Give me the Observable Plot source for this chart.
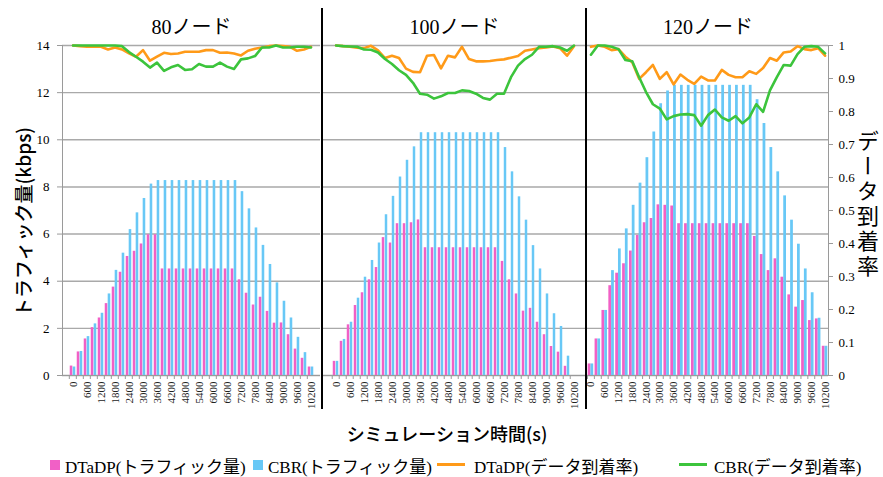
<!DOCTYPE html>
<html><head><meta charset="utf-8">
<script src="https://cdn.jsdelivr.net/npm/d3@7"></script>
<script src="https://cdn.jsdelivr.net/npm/@observablehq/plot@0.6"></script>
<style>
body{margin:0;background:#fff;}
#chart{position:relative;width:883px;height:477px;overflow:hidden;font-family:"Liberation Serif","Noto Sans CJK JP",serif;color:#000;}
.panel{position:absolute;top:0;}
.sep{position:absolute;width:2px;background:#000;top:8px;height:401px;}
.ylab{position:absolute;left:22px;top:222px;transform:translate(-50%,-50%) rotate(-90deg);font-family:"Noto Sans CJK JP",sans-serif;font-size:19px;font-weight:500;white-space:nowrap;}
.rlab{position:absolute;left:855px;top:130px;width:26px;writing-mode:vertical-rl;text-orientation:upright;font-family:"Noto Sans CJK JP",sans-serif;font-size:22px;line-height:26px;letter-spacing:3px;}
.xlab{position:absolute;left:447px;top:433px;transform:translate(-50%,-50%);font-family:"Noto Sans CJK JP",sans-serif;font-size:18px;font-weight:500;white-space:nowrap;}
.leg{position:absolute;top:465px;transform:translateY(-50%);font-size:17px;white-space:nowrap;}
.sw{position:absolute;top:460px;}
</style>
</head><body>
<div id="chart"></div>
<script>
const nodes = ["80ノード", "100ノード", "120ノード"];
const times = [0,300,600,900,1200,1500,1800,2100,2400,2700,3000,3300,3600,3900,4200,4500,4800,5100,5400,5700,6000,6300,6600,6900,7200,7500,7800,8100,8400,8700,9000,9300,9600,9900,10200];
const xTickLabels = [0,600,1200,1800,2400,3000,3600,4200,4800,5400,6000,6600,7200,7800,8400,9000,9600,10200];
const trafficTicks = [0,2,4,6,8,10,12,14];
const rateTicks = [0,0.1,0.2,0.3,0.4,0.5,0.6,0.7,0.8,0.9,1];
const rateTickLabels = ["0","0.1","0.2","0.3","0.4","0.5","0.6","0.7","0.8","0.9","1"];
const seriesNames = ["DTaDP(トラフィック量)", "CBR(トラフィック量)", "DTaDP(データ到着率)", "CBR(データ到着率)"];

const dtadpTraffic80 = [0.4,1.0,1.55,2.03,2.44,3.05,3.75,4.38,5.05,5.27,5.58,5.97,5.97,4.52,4.52,4.52,4.52,4.52,4.52,4.52,4.52,4.52,4.52,4.52,4.06,3.49,2.99,3.32,2.72,2.22,2.23,1.73,1.12,0.73,0.36];
const cbrTraffic80 = [0.36,1.02,1.65,2.19,2.64,3.46,4.46,5.19,6.19,6.9,7.51,8.12,8.27,8.27,8.27,8.27,8.27,8.27,8.27,8.27,8.27,8.27,8.27,8.27,7.8,7.07,6.26,5.52,4.71,3.93,3.15,2.44,1.62,0.97,0.36];
const dtadpRate80 = [1.0,0.998,0.996,0.996,0.996,0.988,0.994,0.988,0.976,0.966,0.986,0.954,0.966,0.978,0.974,0.976,0.981,0.981,0.981,0.986,0.986,0.978,0.979,0.976,0.97,0.984,0.99,0.994,0.998,1.0,0.998,0.996,0.984,0.988,0.996];
const cbrRate80 = [1.0,1.0,1.0,1.0,1.0,1.0,1.0,0.998,0.98,0.966,0.951,0.933,0.948,0.923,0.934,0.941,0.926,0.928,0.944,0.936,0.936,0.948,0.936,0.929,0.958,0.961,0.968,0.994,0.994,1.0,0.994,0.994,0.996,0.996,0.994];

const dtadpTraffic100 = [0.6,1.45,2.15,2.97,3.51,4.06,4.58,5.85,5.62,6.44,6.44,6.48,6.6,5.42,5.42,5.42,5.42,5.42,5.42,5.42,5.42,5.42,5.42,5.42,4.84,4.06,3.46,2.73,2.85,2.26,1.73,1.23,0.99,0.39,0];
const cbrTraffic100 = [0.6,1.53,2.26,3.28,4.17,4.88,5.62,6.82,7.6,8.42,9.13,9.7,10.3,10.3,10.3,10.3,10.3,10.3,10.3,10.3,10.3,10.3,10.3,10.3,9.67,8.64,7.58,6.59,5.51,4.52,3.46,2.62,2.08,0.82,0];
const dtadpRate100 = [1.0,0.998,0.996,0.993,0.992,0.999,0.985,0.962,0.969,0.962,0.93,0.92,0.919,0.969,0.971,0.931,0.969,0.964,0.996,0.959,0.952,0.952,0.953,0.956,0.958,0.963,0.968,0.984,0.988,0.992,0.994,0.997,0.992,0.969,0.998];
const cbrRate100 = [1.0,0.998,0.997,0.996,0.988,0.987,0.979,0.959,0.944,0.925,0.911,0.887,0.854,0.851,0.839,0.846,0.856,0.856,0.864,0.862,0.854,0.841,0.836,0.854,0.854,0.904,0.939,0.959,0.972,0.996,0.996,0.998,0.994,0.984,1.0];

const dtadpTraffic120 = [0.49,1.55,2.76,3.81,4.34,4.74,5.28,5.94,6.48,6.66,7.24,7.22,7.19,6.44,6.44,6.44,6.44,6.44,6.44,6.44,6.44,6.44,6.44,6.44,5.9,5.13,4.45,4.95,4.17,3.42,2.9,3.18,2.33,2.4,1.24];
const cbrTraffic120 = [0.49,1.55,2.76,4.45,5.37,6.22,7.22,8.16,9.24,10.33,11.53,12.07,12.31,12.31,12.31,12.31,12.31,12.31,12.31,12.31,12.31,12.31,12.31,12.31,11.7,10.69,9.67,8.64,7.62,6.59,5.57,4.52,3.51,2.43,1.24];
const dtadpRate120 = [0.996,1.0,0.996,0.986,0.989,0.966,0.949,0.899,0.919,0.941,0.899,0.919,0.882,0.912,0.896,0.884,0.906,0.894,0.894,0.926,0.911,0.904,0.904,0.922,0.914,0.932,0.962,0.954,0.979,0.982,0.998,0.989,0.986,0.992,0.969];
const cbrRate120 = [0.972,1.0,1.0,0.996,0.989,0.956,0.952,0.904,0.859,0.822,0.809,0.776,0.786,0.791,0.792,0.789,0.757,0.789,0.806,0.782,0.772,0.786,0.764,0.782,0.822,0.799,0.864,0.904,0.941,0.939,0.974,0.996,0.998,0.996,0.976];

const PINK = "#f160c6", BLUE = "#68c8f6", ORANGE = "#ff9a18", GREEN = "#3cc43c", GRID = "#a9a9a9", AXIS = "#9a9a9a";
const RATE_MAX = 14; // right axis 1.0 aligned with left axis 14

const panels = [
  {dt: dtadpTraffic80, cb: cbrTraffic80, dr: dtadpRate80, cr: cbrRate80, left: 0, width: 321, ml: 62, mr: 1, axis: "left"},
  {dt: dtadpTraffic100, cb: cbrTraffic100, dr: dtadpRate100, cr: cbrRate100, left: 321, width: 266, ml: 1, mr: 1, axis: null},
  {dt: dtadpTraffic120, cb: cbrTraffic120, dr: dtadpRate120, cr: cbrRate120, left: 586, width: 297, ml: 1, mr: 55, axis: "right"}
];

const chart = document.getElementById("chart");
const FONT = "Liberation Serif, Noto Sans CJK JP, serif";

panels.forEach((p, k) => {
  const plotW = p.width - p.ml - p.mr;
  const w = plotW / times.length;
  const rows = times.map((t, i) => ({t, dt: p.dt[i], cb: p.cb[i], dr: p.dr[i], cr: p.cr[i]}));
  const marks = [
    Plot.gridY({ticks: trafficTicks, stroke: GRID, strokeOpacity: 1, strokeWidth: 1.4}),
    Plot.barY(rows, {x: "t", y: "dt", fill: PINK, insetLeft: 0.1 * w, insetRight: 0.5 * w}),
    Plot.barY(rows, {x: "t", y: "cb", fill: BLUE, insetLeft: 0.5 * w, insetRight: 0.1 * w}),
    Plot.ruleY([0], {stroke: AXIS, strokeWidth: 1.2}),
    Plot.axisX({ticks: times, tickSize: 4, tickFormat: () => "", dx: -w / 2, stroke: AXIS, label: null}),
    Plot.axisX({ticks: xTickLabels, tickSize: 0, tickRotate: -90, tickPadding: 6, fontSize: 11, fill: "#222", label: null, tickFormat: d => String(d)}),
    Plot.lineY(rows, {x: "t", y: d => d.dr * RATE_MAX, stroke: ORANGE, strokeWidth: 2.6}),
    Plot.lineY(rows, {x: "t", y: d => d.cr * RATE_MAX, stroke: GREEN, strokeWidth: 2.6}),
    Plot.text([nodes[k]], {frameAnchor: "top", dy: -26, fontSize: 20, text: d => d})
  ];
  if (p.axis === "left") {
    marks.push(Plot.frame({anchor: "left", stroke: AXIS}));
    marks.push(Plot.axisY({anchor: "left", ticks: trafficTicks, tickSize: 5, tickPadding: 8, fontSize: 13, stroke: AXIS, label: null}));
  }
  if (p.axis === "right") {
    marks.push(Plot.frame({anchor: "right", stroke: AXIS}));
    marks.push(Plot.axisY({anchor: "right", ticks: rateTicks.map(v => v * RATE_MAX), tickSize: 4, tickPadding: 6, fontSize: 13, stroke: AXIS, label: null,
      tickFormat: d => rateTickLabels[rateTicks.findIndex(v => Math.abs(v * RATE_MAX - d) < 1e-6)]}));
  }
  const svg = Plot.plot({
    width: p.width,
    height: 420,
    marginTop: 45,
    marginBottom: 45,
    marginLeft: p.ml,
    marginRight: p.mr,
    x: {type: "band", domain: times, padding: 0},
    y: {domain: [0, 14], axis: p.axis ? undefined : null},
    style: {background: "transparent", fontFamily: FONT, color: "#000", overflow: "visible"},
    marks
  });
  svg.classList.add("panel");
  svg.style.left = p.left + "px";
  chart.appendChild(svg);
});

// separators
[321, 585].forEach(x => {
  const d = document.createElement("div");
  d.className = "sep";
  d.style.left = x + "px";
  chart.appendChild(d);
});

// axis titles
chart.insertAdjacentHTML("beforeend", `<div class="ylab">トラフィック量(kbps)</div>`);
chart.insertAdjacentHTML("beforeend", `<div class="rlab">データ到着率</div>`);
chart.insertAdjacentHTML("beforeend", `<div class="xlab">シミュレーション時間(s)</div>`);

// legend
const legendItems = [
  {name: seriesNames[0], color: PINK, kind: "box", x: 50, tx: 65},
  {name: seriesNames[1], color: BLUE, kind: "box", x: 253, tx: 268},
  {name: seriesNames[2], color: ORANGE, kind: "line", x: 437, tx: 474},
  {name: seriesNames[3], color: GREEN, kind: "line", x: 679, tx: 714}
];
legendItems.forEach(it => {
  const sw = document.createElement("div");
  sw.className = "sw";
  sw.style.left = it.x + "px";
  sw.style.background = it.color;
  if (it.kind === "box") { sw.style.width = "10px"; sw.style.height = "10px"; sw.style.top = "460px"; }
  else { sw.style.width = "28px"; sw.style.height = "3px"; sw.style.top = "463px"; }
  chart.appendChild(sw);
  const t = document.createElement("div");
  t.className = "leg";
  t.style.left = it.tx + "px";
  t.textContent = it.name;
  chart.appendChild(t);
});
</script>
</body></html>
